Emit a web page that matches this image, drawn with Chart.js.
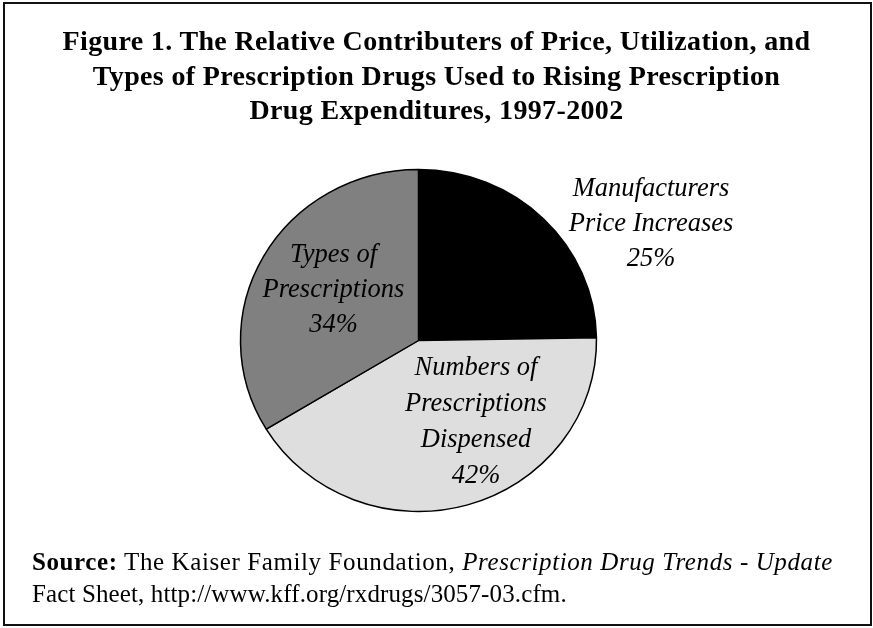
<!DOCTYPE html>
<html>
<head>
<meta charset="utf-8">
<script src="https://cdn.jsdelivr.net/npm/chart.js@4"></script>
<style>
  html, body { margin: 0; padding: 0; background: #fff; }
  body { width: 873px; height: 628px; position: relative; overflow: hidden; font-family: "Liberation Serif", "DejaVu Serif", serif; color: #000; }
  #frame { position: absolute; left: 3px; top: 2px; width: 865px; height: 620px; border: 2px solid #111; }
  #chart { position: absolute; left: 0; top: 0; }
  #title { position: absolute; left: 0; width: 873px; top: 24px; text-align: center; font-weight: bold; font-size: 28px; line-height: 34.5px; letter-spacing: 0.35px; }
  #source { position: absolute; left: 32px; top: 546px; font-size: 25px; line-height: 32px; letter-spacing: 0.6px; white-space: nowrap; }
  #source .l2 { letter-spacing: 0.12px; }
</style>
</head>
<body>
<div id="frame"></div>
<canvas id="chart" width="873" height="628"></canvas>
<div id="title"></div>
<div id="source"></div>
<script>
// ---- data ----
const titleLines = [
  "Figure 1. The Relative Contributers of Price, Utilization, and",
  "Types of Prescription Drugs Used to Rising Prescription",
  "Drug Expenditures, 1997-2002"
];
const categories = ["Manufacturers Price Increases", "Numbers of Prescriptions Dispensed", "Types of Prescriptions"];
const categoryLines = [["Manufacturers", "Price Increases"], ["Numbers of", "Prescriptions", "Dispensed"], ["Types of", "Prescriptions"]];
const values = [25, 42, 34];
const sliceColors = ["#000000", "#dedede", "#808080"];
const sourceLabel = "Source:";
const sourceText = " The Kaiser Family Foundation, ";
const sourcePub = "Prescription Drug Trends - Update";
const sourceLine2 = "Fact Sheet, http://www.kff.org/rxdrugs/3057-03.cfm.";

// ---- text blocks ----
document.getElementById("title").innerHTML = titleLines.map(s => "<div>" + s + "</div>").join("");
document.getElementById("source").innerHTML =
  "<div><b>" + sourceLabel + "</b>" + sourceText + "<i>" + sourcePub + "</i></div><div class=\"l2\">" + sourceLine2 + "</div>";

// ---- layout constants ----
const RX = 178, RY = 171;
const labelOffsets = [ // label block centre x offset and first baseline offset from pie centre
  { dx: 232.5, dy: -144.5, step: 35 },
  { dx: 57.5, dy: 34.5, step: 36 },
  { dx: -85, dy: -78.5, step: 35 }
];

const ellipsePlugin = {
  id: "ellipse",
  beforeDatasetsDraw(chart) {
    const a = chart.getDatasetMeta(0).data[0];
    const ctx = chart.ctx;
    ctx.save();
    ctx.translate(a.x, a.y);
    ctx.scale(1, RY / RX);
    ctx.translate(-a.x, -a.y);
  },
  afterDatasetsDraw(chart) {
    const ctx = chart.ctx;
    ctx.restore();
    const a = chart.getDatasetMeta(0).data[0];
    ctx.save();
    ctx.font = "italic 26.5px 'Liberation Serif', serif";
    ctx.fillStyle = "#000";
    ctx.textAlign = "center";
    ctx.textBaseline = "alphabetic";
    categoryLines.forEach((lines, i) => {
      const o = labelOffsets[i];
      const all = lines.concat([values[i] + "%"]);
      all.forEach((t, j) => ctx.fillText(t, a.x + o.dx, a.y + o.dy + j * o.step));
    });
    ctx.restore();
  }
};

new Chart(document.getElementById("chart"), {
  type: "pie",
  data: {
    labels: categories,
    datasets: [{
      data: values,
      backgroundColor: sliceColors,
      borderColor: "#000",
      borderWidth: 1.5
    }]
  },
  options: {
    responsive: false,
    animation: false,
    devicePixelRatio: 1,
    radius: RX,
    rotation: 0,
    layout: { padding: { left: 228.5, right: 264.5, top: 150.5, bottom: 97.5 } },
    plugins: { legend: { display: false }, tooltip: { enabled: false }, title: { display: false } }
  },
  plugins: [ellipsePlugin]
});
</script>
</body>
</html>
